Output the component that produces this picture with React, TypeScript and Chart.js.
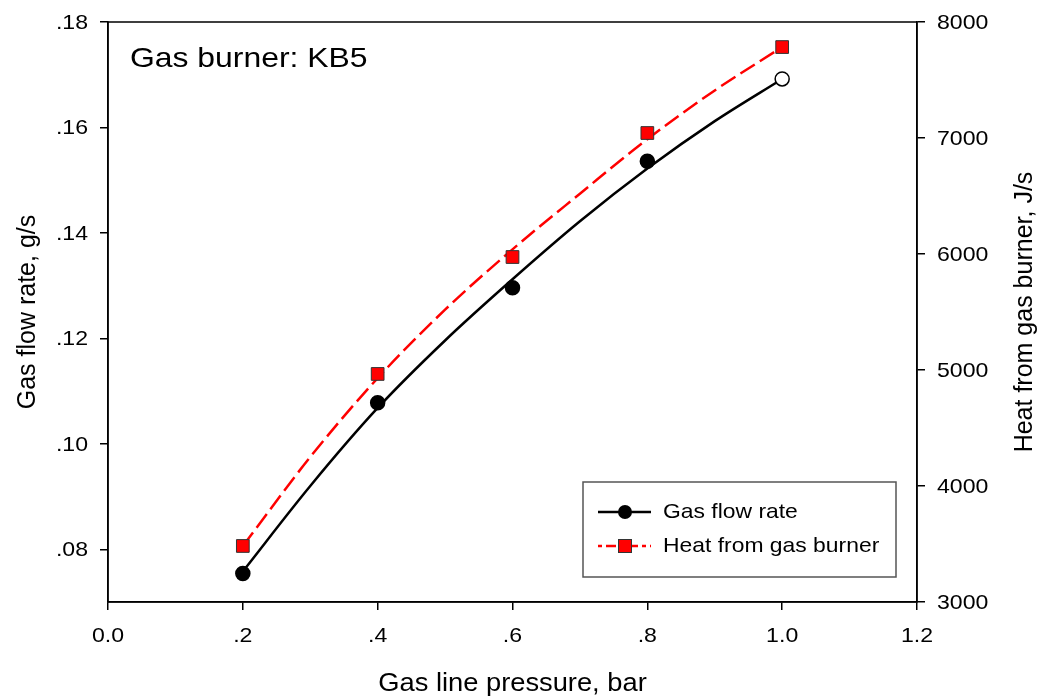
import React, { useEffect, useRef } from "react";
import { Chart, registerables } from "chart.js";

Chart.register(...registerables);

// Measured points
const pressure = [0.2, 0.4, 0.6, 0.8, 1.0];
const flowRate = [0.0754, 0.1078, 0.1296, 0.1536, 0.1692];
const heat = [3483, 4966, 5974, 7043, 7784];

// Fitted curves through the measurements
const fitPressure = [0.2, 0.3, 0.4, 0.5, 0.6, 0.7, 0.8, 0.9, 1.0];
const flowFit = [0.0758, 0.092, 0.1068, 0.1196, 0.1312, 0.1422, 0.1522, 0.1612, 0.1692];
const heatFit = [3483, 4250, 4930, 5520, 6040, 6520, 6990, 7410, 7784];

// Axis ticks
const xTicks = [0, 0.2, 0.4, 0.6, 0.8, 1.0, 1.2];
const xTickLabels = ["0.0", ".2", ".4", ".6", ".8", "1.0", "1.2"];
const flowTicks = [0.08, 0.1, 0.12, 0.14, 0.16, 0.18];
const flowTickLabels = [".08", ".10", ".12", ".14", ".16", ".18"];
const heatTicks = [3000, 4000, 5000, 6000, 7000, 8000];
const heatTickLabels = ["3000", "4000", "5000", "6000", "7000", "8000"];

const seriesNames = ["Gas flow rate", "Heat from gas burner"];
const chartTitle = "Gas burner: KB5";
const xTitle = "Gas line pressure, bar";
const leftTitle = "Gas flow rate, g/s";
const rightTitle = "Heat from gas burner, J/s";

const FONT = "'Liberation Sans', Arial, Helvetica, sans-serif";
const RED_DASH = [17, 6];

// Text is drawn with a slight horizontal widening, like the original typeface.
function drawText(
  ctx: CanvasRenderingContext2D,
  text: string,
  x: number,
  y: number,
  size: number,
  align: CanvasTextAlign,
  widen: number,
  rotate = 0
) {
  ctx.save();
  ctx.translate(x, y);
  if (rotate) ctx.rotate(rotate);
  ctx.scale(widen, 1);
  ctx.font = `${size}px ${FONT}`;
  ctx.textAlign = align;
  ctx.textBaseline = "middle";
  ctx.fillStyle = "#000";
  ctx.fillText(text, 0, 0);
  ctx.restore();
}

const decorations = {
  id: "decorations",
  afterDraw(chart: any) {
    const ctx = chart.ctx as CanvasRenderingContext2D;
    const a = chart.chartArea;
    const sx = chart.scales.x;
    const sl = chart.scales.yFlow;
    const sr = chart.scales.yHeat;
    ctx.save();

    // plot frame
    ctx.strokeStyle = "#000";
    ctx.lineWidth = 1.5;
    ctx.strokeRect(a.left, a.top, a.right - a.left, a.bottom - a.top);

    // tick labels
    xTicks.forEach((v, i) => {
      drawText(ctx, xTickLabels[i], sx.getPixelForValue(v), a.bottom + 34, 21, "center", 1.1);
    });
    flowTicks.forEach((v, i) => {
      drawText(ctx, flowTickLabels[i], a.left - 20, sl.getPixelForValue(v) + 1, 21, "right", 1.1);
    });
    heatTicks.forEach((v, i) => {
      drawText(ctx, heatTickLabels[i], a.right + 20, sr.getPixelForValue(v) + 1, 21, "left", 1.1);
    });

    // title inside the plot
    drawText(ctx, chartTitle, a.left + 22, a.top + 37, 27.5, "left", 1.16);

    // axis titles
    drawText(ctx, xTitle, (a.left + a.right) / 2, 684, 25.5, "center", 1.07);
    const midY = (a.top + a.bottom) / 2;
    drawText(ctx, leftTitle, 28, midY, 25, "center", 1.0, -Math.PI / 2);
    drawText(ctx, rightTitle, 1025, midY, 25, "center", 1.0, -Math.PI / 2);

    // legend box
    const bx = a.right - 334;
    const by = a.bottom - 120;
    const bw = 313;
    const bh = 95;
    ctx.fillStyle = "#fff";
    ctx.fillRect(bx, by, bw, bh);
    ctx.strokeStyle = "#555";
    ctx.lineWidth = 1.5;
    ctx.strokeRect(bx, by, bw, bh);

    const lx0 = bx + 15;
    const lx1 = bx + 68;
    const mx = bx + 42;
    const row1 = by + 30;
    const row2 = by + 64;

    // black row
    ctx.strokeStyle = "#000";
    ctx.lineWidth = 2.5;
    ctx.beginPath();
    ctx.moveTo(lx0, row1);
    ctx.lineTo(lx1, row1);
    ctx.stroke();
    ctx.fillStyle = "#000";
    ctx.beginPath();
    ctx.arc(mx, row1, 7, 0, Math.PI * 2);
    ctx.fill();

    // red row
    ctx.strokeStyle = "#ff0000";
    ctx.lineWidth = 2.5;
    ctx.setLineDash([4, 4, 10, 4]);
    ctx.beginPath();
    ctx.moveTo(lx0, row2);
    ctx.lineTo(lx1, row2);
    ctx.stroke();
    ctx.setLineDash([]);
    ctx.fillStyle = "#ff0000";
    ctx.fillRect(mx - 6.5, row2 - 6.5, 13, 13);
    ctx.strokeStyle = "#333";
    ctx.lineWidth = 1;
    ctx.strokeRect(mx - 6.5, row2 - 6.5, 13, 13);

    drawText(ctx, seriesNames[0], bx + 80, row1, 21, "left", 1.09);
    drawText(ctx, seriesNames[1], bx + 80, row2, 21, "left", 1.09);

    ctx.restore();
  },
};

export default function App() {
  const canvasRef = useRef<HTMLCanvasElement | null>(null);

  useEffect(() => {
    const canvas = canvasRef.current;
    if (!canvas) return;

    const flowPoints = pressure.map((x, i) => ({ x, y: flowRate[i] }));
    const heatPoints = pressure.map((x, i) => ({ x, y: heat[i] }));
    const flowCurve = fitPressure.map((x, i) => ({ x, y: flowFit[i] }));
    const heatCurve = fitPressure.map((x, i) => ({ x, y: heatFit[i] }));

    const axisGrid = {
      drawOnChartArea: false,
      drawTicks: true,
      tickLength: 8,
      color: "#000",
      lineWidth: 1.5,
    };

    const chart = new Chart(canvas, {
      type: "line",
      data: {
        datasets: [
          {
            label: seriesNames[0] + " points",
            data: flowPoints,
            yAxisID: "yFlow",
            showLine: false,
            pointStyle: "circle",
            pointRadius: 7,
            pointBorderWidth: 1.5,
            pointBackgroundColor: flowRate.map((_, i) => (i === flowRate.length - 1 ? "#fff" : "#000")),
            pointBorderColor: "#000",
            order: 0,
          },
          {
            label: seriesNames[1] + " points",
            data: heatPoints,
            yAxisID: "yHeat",
            showLine: false,
            pointStyle: "rect",
            pointRadius: 9,
            pointBorderWidth: 1,
            pointBackgroundColor: "#ff0000",
            pointBorderColor: "#333",
            order: 0,
          },
          {
            label: seriesNames[0],
            data: flowCurve,
            yAxisID: "yFlow",
            borderColor: "#000",
            borderWidth: 2.5,
            pointRadius: 0,
            cubicInterpolationMode: "monotone",
            fill: false,
            order: 1,
          },
          {
            label: seriesNames[1],
            data: heatCurve,
            yAxisID: "yHeat",
            borderColor: "#ff0000",
            borderWidth: 2.5,
            borderDash: RED_DASH,
            pointRadius: 0,
            cubicInterpolationMode: "monotone",
            fill: false,
            order: 1,
          },
        ],
      },
      options: {
        animation: false,
        responsive: false,
        maintainAspectRatio: false,
        layout: { padding: { top: 22, left: 0, right: 0, bottom: 0 } },
        plugins: {
          legend: { display: false },
          tooltip: { enabled: false },
          title: { display: false },
        },
        scales: {
          x: {
            type: "linear",
            position: "bottom",
            min: 0,
            max: 1.2,
            grid: axisGrid,
            border: { display: true, color: "#000", width: 1.5 },
            ticks: { display: false },
            afterBuildTicks: (s: any) => {
              s.ticks = xTicks.map((value) => ({ value }));
            },
            afterFit: (s: any) => {
              s.height = 96;
            },
          },
          yFlow: {
            type: "linear",
            position: "left",
            min: 0.07,
            max: 0.18,
            grid: axisGrid,
            border: { display: true, color: "#000", width: 1.5 },
            ticks: { display: false },
            afterBuildTicks: (s: any) => {
              s.ticks = flowTicks.map((value) => ({ value }));
            },
            afterFit: (s: any) => {
              s.width = 108;
            },
          },
          yHeat: {
            type: "linear",
            position: "right",
            min: 3000,
            max: 8000,
            grid: axisGrid,
            border: { display: true, color: "#000", width: 1.5 },
            ticks: { display: false },
            afterBuildTicks: (s: any) => {
              s.ticks = heatTicks.map((value) => ({ value }));
            },
            afterFit: (s: any) => {
              s.width = 125;
            },
          },
        },
      },
      plugins: [decorations],
    });

    return () => chart.destroy();
  }, []);

  return (
    <div style={{ position: "absolute", left: 0, top: 0, width: 1042, height: 698, background: "#fff" }}>
      <canvas ref={canvasRef} width={1042} height={698} />
    </div>
  );
}
